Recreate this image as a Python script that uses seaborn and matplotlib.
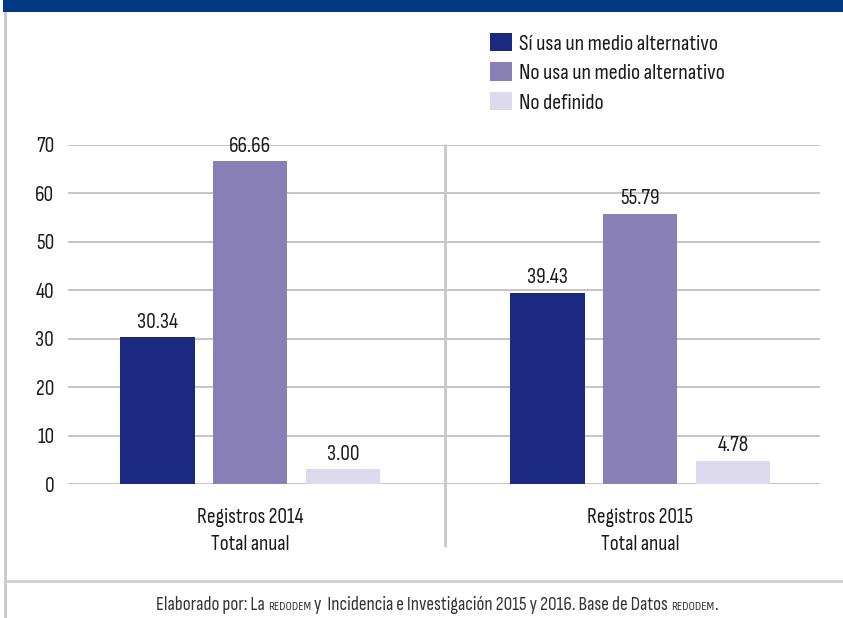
import matplotlib
matplotlib.use("Agg")
import matplotlib.pyplot as plt
from matplotlib.patches import Patch, Rectangle
from matplotlib.lines import Line2D
import seaborn as sns
import pandas as pd

# --- data ---------------------------------------------------------------
categories = ["Registros 2014\nTotal anual", "Registros 2015\nTotal anual"]
series = ["Sí usa un medio alternativo", "No usa un medio alternativo", "No definido"]
si_usa = [30.34, 39.43]
no_usa = [66.66, 55.79]
no_definido = [3.00, 4.78]
colors = ["#1b2a80", "#877fb5", "#dbd9eb"]
yticks = [0, 10, 20, 30, 40, 50, 60, 70]

rows = []
for serie, vals in zip(series, [si_usa, no_usa, no_definido]):
    for cat, v in zip(categories, vals):
        rows.append({"categoria": cat, "serie": serie, "valor": v})
df = pd.DataFrame(rows)

# --- style --------------------------------------------------------------
sns.set_theme(style="white")
plt.rcParams["font.family"] = ["Sofia Sans Condensed", "DejaVu Sans"]
text_color = "#1a1a1a"
grid_color = "#c0c0c0"
fs = 15.5

fig = plt.figure(figsize=(8.43, 6.18), dpi=100)
ax = fig.add_axes([68 / 843, 134 / 618, 752 / 843, 339 / 618])

sns.barplot(data=df, x="categoria", y="valor", hue="serie", order=categories,
            hue_order=series, palette=colors, width=0.715, gap=0.194,
            saturation=1, linewidth=0, ax=ax, legend=False, zorder=3)

ax.set_xlim(-0.4667, 1.4615)
ax.set_ylim(0, 70)
ax.set_yticks(yticks)
ax.set_yticklabels([str(t) for t in yticks], fontsize=fs, color=text_color)
ax.tick_params(axis="y", length=0, pad=10)
ax.tick_params(axis="x", length=0, pad=17, labelsize=fs, labelcolor=text_color)
for lbl in ax.get_xticklabels():
    lbl.set_linespacing(1.55)
ax.set_xlabel("")
ax.set_ylabel("")
for s in ax.spines.values():
    s.set_visible(False)
ax.yaxis.grid(True, color=grid_color, linewidth=1.3, zorder=0)
ax.set_axisbelow(True)

# value labels on bars
for cont in ax.containers:
    ax.bar_label(cont, fmt="%.2f", padding=4, fontsize=fs, color=text_color)

# divider between the two groups
ax.add_line(Line2D([0.5, 0.5], [70, -12.8], color="#c8c8c8", linewidth=2,
                   clip_on=False, zorder=1))

# legend
handles = [Patch(facecolor=c, edgecolor="none") for c in colors]
fig.legend(handles, series, loc="upper left", bbox_to_anchor=(490 / 843, 1 - 33 / 618),
           frameon=False, fontsize=16, handlelength=1.0, handleheight=0.9,
           handletextpad=0.3, labelspacing=0.38, borderaxespad=0, borderpad=0,
           labelcolor=text_color)

# header band and frame lines
fig.patches.append(Rectangle((3 / 843, 1 - 12 / 618), 840 / 843, 12 / 618,
                             transform=fig.transFigure, facecolor="#003a84",
                             edgecolor="none", zorder=5))
fig.add_artist(Line2D([4.5 / 843, 4.5 / 843], [0, 1], transform=fig.transFigure,
                      color="#c8c8c8", linewidth=2))
fig.add_artist(Line2D([5 / 843, 1], [1 - 581 / 618, 1 - 581 / 618],
                      transform=fig.transFigure, color="#cfcfcf", linewidth=2))

# source note with small-caps acronym
parts = [("Elaborado por: La ", 13.8), ("REDODEM", 9.2),
         (" y  Incidencia e Investigación 2015 y 2016. Base de Datos ", 13.8),
         ("REDODEM", 9.2), (".", 13.8)]
y_note = 1 - 610 / 618
texts = [fig.text(0, y_note, s, fontsize=size, color="#333333", ha="left",
                  va="baseline") for s, size in parts]
fig.canvas.draw()
r = fig.canvas.get_renderer()
widths = [t.get_window_extent(r).width for t in texts]
xpos = 437 - sum(widths) / 2
for t, w in zip(texts, widths):
    t.set_position((xpos / 843, y_note))
    xpos += w

fig.savefig("out.png", dpi=100)
